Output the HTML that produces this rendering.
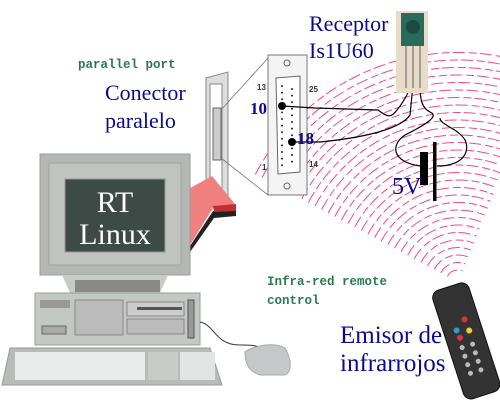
<!DOCTYPE html>
<html><head><meta charset="utf-8"><style>
html,body{margin:0;padding:0;background:#fff;width:500px;height:410px;overflow:hidden}
svg{display:block}
.ser{font-family:"Liberation Serif",serif;fill:#0a0a8c}
.mono{font-family:"Liberation Mono",monospace;font-weight:bold;fill:#2a7a50;font-size:12.5px}
</style></head><body>
<svg id="s" width="500" height="410" viewBox="0 0 500 410" xmlns="http://www.w3.org/2000/svg">
<g id="arcs" fill="none" stroke="#f04a80" stroke-width="1" stroke-dasharray="12 4 8 3"></g>
<path d="M206,78 L228,72 L228,198 L222,198 L222,84 L210,84 L210,182 L206,182 Z" fill="#ddd" stroke="#888" stroke-width="1"/>
<rect x="213" y="108" width="8" height="52" fill="#ccc" stroke="#666"/>
<line x1="221" y1="110" x2="268" y2="58" stroke="#777" stroke-width="0.8"/>
<line x1="221" y1="158" x2="268" y2="195" stroke="#777" stroke-width="0.8"/>
<rect x="268" y="55" width="39" height="140" fill="#f4f4f4" stroke="#777"/>
<path d="M276,78 L300,76 L300,172 L278,174 Z" fill="#fff" stroke="#666"/>
<circle cx="287" cy="63" r="3" fill="none" stroke="#666"/>
<circle cx="287" cy="186" r="3" fill="none" stroke="#666"/>
<g fill="#222" id="pins"></g>
<text x="257" y="90" font-size="8" font-family="Liberation Sans,sans-serif" font-weight="bold" fill="#333">13</text>
<text x="309" y="92" font-size="8" font-family="Liberation Sans,sans-serif" font-weight="bold" fill="#333">25</text>
<text x="262" y="170" font-size="8" font-family="Liberation Sans,sans-serif" font-weight="bold" fill="#333">1</text>
<text x="309" y="167" font-size="8" font-family="Liberation Sans,sans-serif" font-weight="bold" fill="#333">14</text>
<circle cx="282" cy="106" r="4" fill="#000"/>
<circle cx="292" cy="142" r="4" fill="#000"/>
<g fill="none" stroke="#000" stroke-width="1.2">
<path d="M282,106 L315,108 L378,110 C385,115 390,120 397,110 C405,100 410,90 410,85"/>
<path d="M292,142 L320,142 C360,138 400,130 410,115 L413,85"/>
<path d="M420,85 C420,100 422,108 430,112 C440,116 425,125 405,135 C390,145 392,162 420,166"/>
<path d="M437,166 C465,166 470,150 465,140 C458,128 440,125 440,118"/>
</g>
<rect x="396" y="11" width="32" height="82" fill="#e8dcc8"/>
<rect x="401" y="13" width="23" height="33" fill="#2a6a5a"/>
<circle cx="413" cy="27" r="7" fill="#1a4a40"/>
<g stroke="#888" stroke-width="1.5"><line x1="406" y1="46" x2="406" y2="88"/><line x1="413" y1="46" x2="413" y2="88"/><line x1="420" y1="46" x2="420" y2="88"/></g>
<rect x="420" y="152" width="8" height="33" fill="#000"/>
<rect x="433" y="142" width="3.5" height="59" fill="#000"/>
<path d="M213,211 L236,211 L236,216 L214,218 L190,252 L190,246 Z" fill="#222"/>
<path d="M190,188 L212,176 L235,204 L213,208 L190,245 Z" fill="#f08080"/>
<path d="M213,206 L236,204 L236,211 L214,212 Z" fill="#c03030"/>
<rect x="40" y="154" width="150" height="121" fill="#b4b8b4" stroke="#9a9e9a"/>
<rect x="49" y="163" width="132" height="102" fill="#c0c4c0" stroke="#a0a4a0"/>
<rect x="65" y="179" width="100" height="73" fill="#3e4a46" stroke="#999"/>
<text x="115" y="212" text-anchor="middle" font-family="Liberation Serif,serif" font-size="30" fill="#fff">RT</text>
<text x="115" y="244" text-anchor="middle" font-family="Liberation Serif,serif" font-size="30" fill="#fff">Linux</text>
<path d="M62,275 L168,275 L160,293 L70,293 Z" fill="#c8ccc8"/>
<rect x="75" y="280" width="85" height="12" fill="#888"/>
<rect x="35" y="293" width="165" height="52" fill="#c4c8c4" stroke="#9a9e9a"/>
<rect x="40" y="300" width="30" height="8" fill="#999"/>
<rect x="75" y="300" width="48" height="35" fill="#bbb" stroke="#888"/>
<rect x="127" y="302" width="57" height="14" fill="#ccc" stroke="#888"/>
<rect x="137" y="307" width="45" height="3" fill="#555"/>
<rect x="127" y="319" width="57" height="15" fill="#bbb" stroke="#888"/>
<rect x="42" y="326" width="24" height="8" fill="#aaa" stroke="#666"/>
<rect x="188" y="300" width="6" height="38" fill="#999" stroke="#555"/>
<path d="M200,322 C215,325 215,345 240,345 C250,345 255,345 262,348" fill="none" stroke="#333" stroke-width="1"/>
<path d="M10,348 L210,348 L222,385 L2,385 Z" fill="#b8bcb8" stroke="#999"/>
<rect x="15" y="352" width="130" height="28" fill="#e8ecea"/>
<rect x="148" y="352" width="30" height="28" fill="#c8ccc8"/>
<rect x="180" y="352" width="35" height="28" fill="#e0e4e2"/>
<path d="M245,352 C255,345 275,342 285,348 C292,360 292,372 285,375 L260,375 C250,372 245,365 245,352 Z" fill="#c4c8c8" stroke="#aaa"/>
<g transform="translate(466,340) rotate(-18)">
<rect x="-19" y="-56" width="38" height="114" rx="8" fill="#333" stroke="#111"/>
<circle cx="5" cy="-20" r="3" fill="#d33"/><circle cx="-6" cy="-12" r="3" fill="#39c"/><circle cx="6" cy="-8" r="3" fill="#ec3"/><circle cx="-5" cy="-4" r="3" fill="#d33"/>
<g fill="#bbb"><circle cx="-6" cy="6" r="2.5"/><circle cx="5" cy="6" r="2.5"/><circle cx="-6" cy="15" r="2.5"/><circle cx="5" cy="15" r="2.5"/><circle cx="-6" cy="24" r="2.5"/><circle cx="5" cy="24" r="2.5"/><circle cx="-6" cy="33" r="2.5"/><circle cx="5" cy="33" r="2.5"/></g>
</g>
<text x="78" y="68" class="mono">parallel port</text>
<text x="105" y="100" class="ser" font-size="22">Conector</text>
<text x="105" y="128" class="ser" font-size="22">paralelo</text>
<text x="309" y="31" class="ser" font-size="22">Receptor</text>
<text x="309" y="58" class="ser" font-size="22">Is1U60</text>
<text x="250" y="114" class="ser" font-size="17" font-weight="bold">10</text>
<text x="297" y="144" class="ser" font-size="17" font-weight="bold">18</text>
<text x="392" y="194" class="ser" font-size="24">5V</text>
<text x="267" y="285" class="mono">Infra-red remote</text>
<text x="267" y="304" class="mono">control</text>
<text x="340" y="343" class="ser" font-size="25">Emisor de</text>
<text x="340" y="371" class="ser" font-size="25">infrarrojos</text>
</svg>
<script>
var ns="http://www.w3.org/2000/svg",g=document.getElementById("arcs");
var cx=458,cy=282;
for(var r=12;r<=235;r+=7.5){var a1=208*Math.PI/180,a2=292*Math.PI/180;
var x1=cx+r*Math.cos(a1),y1=cy+r*Math.sin(a1),x2=cx+r*Math.cos(a2),y2=cy+r*Math.sin(a2);
var p=document.createElementNS(ns,"path");p.setAttribute("d","M"+x1+","+y1+" A"+r+","+r+" 0 0 1 "+x2+","+y2);g.appendChild(p);}
var pg=document.getElementById("pins");
for(var i=0;i<13;i++){var c=document.createElementNS(ns,"circle");c.setAttribute("cx",282);c.setAttribute("cy",86+i*6.6);c.setAttribute("r",1);pg.appendChild(c);}
for(var i=0;i<12;i++){var c=document.createElementNS(ns,"circle");c.setAttribute("cx",292);c.setAttribute("cy",89+i*6.6);c.setAttribute("r",1);pg.appendChild(c);}
</script>
</body></html>
